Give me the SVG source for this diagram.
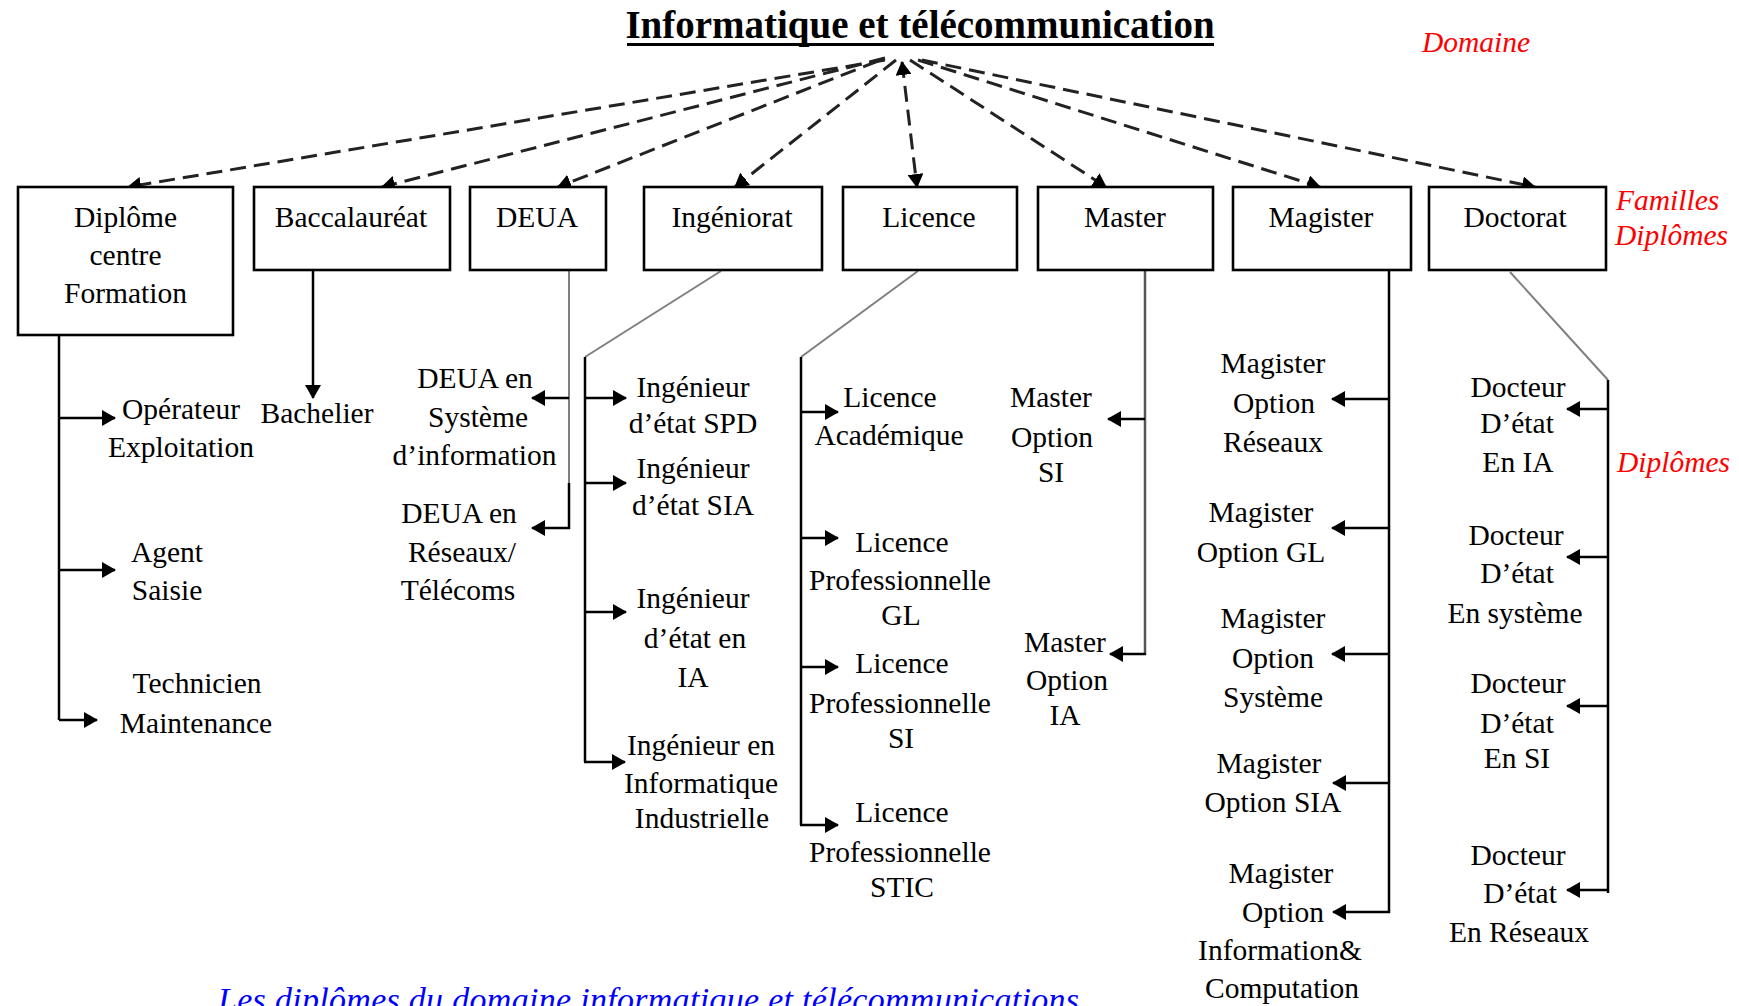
<svg xmlns="http://www.w3.org/2000/svg" width="1739" height="1006" viewBox="0 0 1739 1006">
  <style>
    .bg { fill: #ffffff; }
    .box { fill: #ffffff; stroke: #000000; stroke-width: 2.6; }
    .t { font-family: "Liberation Serif", "Times New Roman", serif; font-size: 29.5px; fill: #000000; text-anchor: middle; }
    .title { font-family: "Liberation Serif", "Times New Roman", serif; font-size: 39px; font-weight: bold; fill: #000000; text-anchor: middle; }
    .red { font-family: "Liberation Serif", "Times New Roman", serif; font-size: 29.5px; font-style: italic; fill: #ff0000; }
    .cap { font-family: "Liberation Serif", "Times New Roman", serif; font-size: 34px; font-style: italic; fill: #0000ff; }
    .dash { fill: none; stroke: #222222; stroke-width: 3; stroke-dasharray: 16 8; marker-end: url(#arrow); }
    .solid { fill: none; stroke: #000000; stroke-width: 2.5; }
    .arr { marker-end: url(#arrow); }
    .gray { fill: none; stroke: #7f7f7f; stroke-width: 2; }
  </style>
  <defs>
    <marker id="arrow" viewBox="0 0 14 16" refX="13" refY="8" markerWidth="14" markerHeight="16" markerUnits="userSpaceOnUse" orient="auto">
      <path d="M0,0 L14,8 L0,16 z" fill="#000000"/>
    </marker>
    <marker id="arrowStart" viewBox="0 0 14 16" refX="13" refY="8" markerWidth="14" markerHeight="16" markerUnits="userSpaceOnUse" orient="auto-start-reverse">
      <path d="M0,0 L14,8 L0,16 z" fill="#000000"/>
    </marker>
  </defs>

  <rect class="bg" x="0" y="0" width="1739" height="1006"/>

  <!-- Domain title -->
  <g id="domaine">
    <text class="title" x="920" y="38">Informatique et télécommunication</text>
    <line x1="627" y1="44.5" x2="1214" y2="44.5" stroke="#000000" stroke-width="3"/>
  </g>

  <!-- Side legends -->
  <g id="legende">
    <text class="red" x="1422" y="52">Domaine</text>
    <text class="red" x="1616" y="210">Familles</text>
    <text class="red" x="1615" y="245">Diplômes</text>
    <text class="red" x="1617" y="472">Diplômes</text>
  </g>

  <!-- Connectors -->
  <g id="connecteurs">
    <!-- domain to diploma families -->
    <line class="dash" x1="885" y1="60" x2="128" y2="187"/>
    <line class="dash" x1="885" y1="58" x2="382" y2="187"/>
    <line class="dash" x1="878" y1="61" x2="558" y2="187"/>
    <line class="dash" x1="896" y1="60" x2="735" y2="187"/>
    <line class="dash" x1="902" y1="62" x2="917" y2="187" marker-start="url(#arrowStart)"/>
    <line class="dash" x1="910" y1="60" x2="1106" y2="187"/>
    <line class="dash" x1="918" y1="60" x2="1320" y2="187"/>
    <line class="dash" x1="922" y1="60" x2="1535" y2="187"/>

    <!-- Diplôme centre Formation -->
    <path class="solid" d="M59,335 V720"/>
    <line class="solid arr" x1="59" y1="418" x2="115" y2="418"/>
    <line class="solid arr" x1="59" y1="570" x2="115" y2="570"/>
    <line class="solid arr" x1="59" y1="720" x2="97" y2="720"/>

    <!-- Baccalauréat -->
    <line class="solid arr" x1="313" y1="270" x2="313" y2="398"/>

    <!-- DEUA -->
    <line class="gray" x1="569" y1="270" x2="569" y2="483"/>
    <line class="solid" x1="569" y1="483" x2="569" y2="529"/>
    <line class="solid arr" x1="569" y1="398" x2="532" y2="398"/>
    <line class="solid arr" x1="570" y1="528" x2="532" y2="528"/>

    <!-- Ingéniorat -->
    <line class="gray" x1="721" y1="271" x2="585" y2="357"/>
    <path class="solid" d="M585,357 V762"/>
    <line class="solid arr" x1="585" y1="398" x2="626" y2="398"/>
    <line class="solid arr" x1="585" y1="483" x2="626" y2="483"/>
    <line class="solid arr" x1="585" y1="612" x2="626" y2="612"/>
    <line class="solid arr" x1="584" y1="762" x2="625" y2="762"/>

    <!-- Licence -->
    <line class="gray" x1="918" y1="271" x2="801" y2="357"/>
    <path class="solid" d="M801,357 V825"/>
    <line class="solid arr" x1="801" y1="412" x2="838" y2="412"/>
    <line class="solid arr" x1="801" y1="538" x2="838" y2="538"/>
    <line class="solid arr" x1="801" y1="667" x2="838" y2="667"/>
    <line class="solid arr" x1="800" y1="825" x2="838" y2="825"/>

    <!-- Master -->
    <line x1="1145" y1="270" x2="1145" y2="655" stroke="#555555" stroke-width="2.5"/>
    <line class="solid arr" x1="1145" y1="419" x2="1108" y2="419"/>
    <line class="solid arr" x1="1146" y1="654" x2="1110" y2="654"/>

    <!-- Magister -->
    <path class="solid" d="M1389,270 V913"/>
    <line class="solid arr" x1="1389" y1="399" x2="1332" y2="399"/>
    <line class="solid arr" x1="1389" y1="528" x2="1332" y2="528"/>
    <line class="solid arr" x1="1389" y1="654" x2="1332" y2="654"/>
    <line class="solid arr" x1="1389" y1="783" x2="1333" y2="783"/>
    <line class="solid arr" x1="1390" y1="912" x2="1333" y2="912"/>

    <!-- Doctorat -->
    <line class="gray" x1="1510" y1="272" x2="1608" y2="380"/>
    <path class="solid" d="M1608,380 V893"/>
    <line class="solid arr" x1="1607" y1="409" x2="1567" y2="409"/>
    <line class="solid arr" x1="1607" y1="557" x2="1567" y2="557"/>
    <line class="solid arr" x1="1607" y1="706" x2="1567" y2="706"/>
    <line class="solid arr" x1="1607" y1="890" x2="1567" y2="890"/>
  </g>

  <!-- Diploma families -->
  <g id="famille-diplome-centre">
    <rect class="box" x="18" y="187" width="215" height="148"/>
    <text class="t" x="125.5" y="227">Diplôme</text>
    <text class="t" x="125.5" y="265">centre</text>
    <text class="t" x="125.5" y="303">Formation</text>
  </g>
  <g id="famille-baccalaureat">
    <rect class="box" x="254" y="187" width="196" height="83"/>
    <text class="t" x="351" y="227">Baccalauréat</text>
  </g>
  <g id="famille-deua">
    <rect class="box" x="470" y="187" width="136" height="83"/>
    <text class="t" x="537" y="227">DEUA</text>
  </g>
  <g id="famille-ingeniorat">
    <rect class="box" x="644" y="187" width="178" height="83"/>
    <text class="t" x="732" y="227">Ingéniorat</text>
  </g>
  <g id="famille-licence">
    <rect class="box" x="843" y="187" width="174" height="83"/>
    <text class="t" x="929" y="227">Licence</text>
  </g>
  <g id="famille-master">
    <rect class="box" x="1038" y="187" width="175" height="83"/>
    <text class="t" x="1125" y="227">Master</text>
  </g>
  <g id="famille-magister">
    <rect class="box" x="1233" y="187" width="178" height="83"/>
    <text class="t" x="1321" y="227">Magister</text>
  </g>
  <g id="famille-doctorat">
    <rect class="box" x="1429" y="187" width="177" height="83"/>
    <text class="t" x="1515" y="227">Doctorat</text>
  </g>

  <!-- Diplômes: centre de formation -->
  <g id="operateur-exploitation">
    <text class="t" x="181" y="419">Opérateur</text>
    <text class="t" x="181" y="457">Exploitation</text>
  </g>
  <g id="agent-saisie">
    <text class="t" x="167" y="562">Agent</text>
    <text class="t" x="167" y="600">Saisie</text>
  </g>
  <g id="technicien-maintenance">
    <text class="t" x="197" y="693">Technicien</text>
    <text class="t" x="196" y="733">Maintenance</text>
  </g>

  <!-- Baccalauréat -->
  <g id="bachelier">
    <text class="t" x="317" y="423">Bachelier</text>
  </g>

  <!-- DEUA -->
  <g id="deua-si">
    <text class="t" x="475" y="388">DEUA en</text>
    <text class="t" x="478" y="427">Système</text>
    <text class="t" x="474.5" y="465">d’information</text>
  </g>
  <g id="deua-reseaux">
    <text class="t" x="459" y="523">DEUA en</text>
    <text class="t" x="462" y="562">Réseaux/</text>
    <text class="t" x="458" y="600">Télécoms</text>
  </g>

  <!-- Ingéniorat -->
  <g id="ingenieur-spd">
    <text class="t" x="693" y="397">Ingénieur</text>
    <text class="t" x="693" y="433">d’état SPD</text>
  </g>
  <g id="ingenieur-sia">
    <text class="t" x="693" y="478">Ingénieur</text>
    <text class="t" x="693" y="515">d’état SIA</text>
  </g>
  <g id="ingenieur-ia">
    <text class="t" x="693" y="608">Ingénieur</text>
    <text class="t" x="695" y="648">d’état en</text>
    <text class="t" x="693" y="687">IA</text>
  </g>
  <g id="ingenieur-ii">
    <text class="t" x="701" y="755">Ingénieur en</text>
    <text class="t" x="701" y="793">Informatique</text>
    <text class="t" x="702" y="828">Industrielle</text>
  </g>

  <!-- Licence -->
  <g id="licence-academique">
    <text class="t" x="890" y="407">Licence</text>
    <text class="t" x="889" y="445">Académique</text>
  </g>
  <g id="licence-pro-gl">
    <text class="t" x="902" y="552">Licence</text>
    <text class="t" x="900" y="590">Professionnelle</text>
    <text class="t" x="901" y="625">GL</text>
  </g>
  <g id="licence-pro-si">
    <text class="t" x="902" y="673">Licence</text>
    <text class="t" x="900" y="713">Professionnelle</text>
    <text class="t" x="901" y="748">SI</text>
  </g>
  <g id="licence-pro-stic">
    <text class="t" x="902" y="822">Licence</text>
    <text class="t" x="900" y="862">Professionnelle</text>
    <text class="t" x="902" y="897">STIC</text>
  </g>

  <!-- Master -->
  <g id="master-si">
    <text class="t" x="1051" y="407">Master</text>
    <text class="t" x="1052" y="447">Option</text>
    <text class="t" x="1051" y="482">SI</text>
  </g>
  <g id="master-ia">
    <text class="t" x="1065" y="652">Master</text>
    <text class="t" x="1067" y="690">Option</text>
    <text class="t" x="1065" y="725">IA</text>
  </g>

  <!-- Magister -->
  <g id="magister-reseaux">
    <text class="t" x="1273" y="373">Magister</text>
    <text class="t" x="1274" y="413">Option</text>
    <text class="t" x="1273" y="452">Réseaux</text>
  </g>
  <g id="magister-gl">
    <text class="t" x="1261" y="522">Magister</text>
    <text class="t" x="1261" y="562">Option GL</text>
  </g>
  <g id="magister-systeme">
    <text class="t" x="1273" y="628">Magister</text>
    <text class="t" x="1273" y="668">Option</text>
    <text class="t" x="1273" y="707">Système</text>
  </g>
  <g id="magister-sia">
    <text class="t" x="1269" y="773">Magister</text>
    <text class="t" x="1273" y="812">Option SIA</text>
  </g>
  <g id="magister-ic">
    <text class="t" x="1281" y="883">Magister</text>
    <text class="t" x="1283" y="922">Option</text>
    <text class="t" x="1280" y="960">Information&amp;</text>
    <text class="t" x="1282" y="998">Computation</text>
  </g>

  <!-- Doctorat -->
  <g id="docteur-ia">
    <text class="t" x="1518" y="397">Docteur</text>
    <text class="t" x="1517" y="433">D’état</text>
    <text class="t" x="1518" y="472">En IA</text>
  </g>
  <g id="docteur-systeme">
    <text class="t" x="1516" y="545">Docteur</text>
    <text class="t" x="1517" y="583">D’état</text>
    <text class="t" x="1515" y="623">En système</text>
  </g>
  <g id="docteur-si">
    <text class="t" x="1518" y="693">Docteur</text>
    <text class="t" x="1517" y="733">D’état</text>
    <text class="t" x="1517" y="768">En SI</text>
  </g>
  <g id="docteur-reseaux">
    <text class="t" x="1518" y="865">Docteur</text>
    <text class="t" x="1520" y="903">D’état</text>
    <text class="t" x="1519" y="942">En Réseaux</text>
  </g>

  <!-- Caption, running off the lower edge -->
  <text class="cap" x="218" y="1011" textLength="861" lengthAdjust="spacing">Les diplômes du domaine informatique et télécommunications</text>
</svg>
